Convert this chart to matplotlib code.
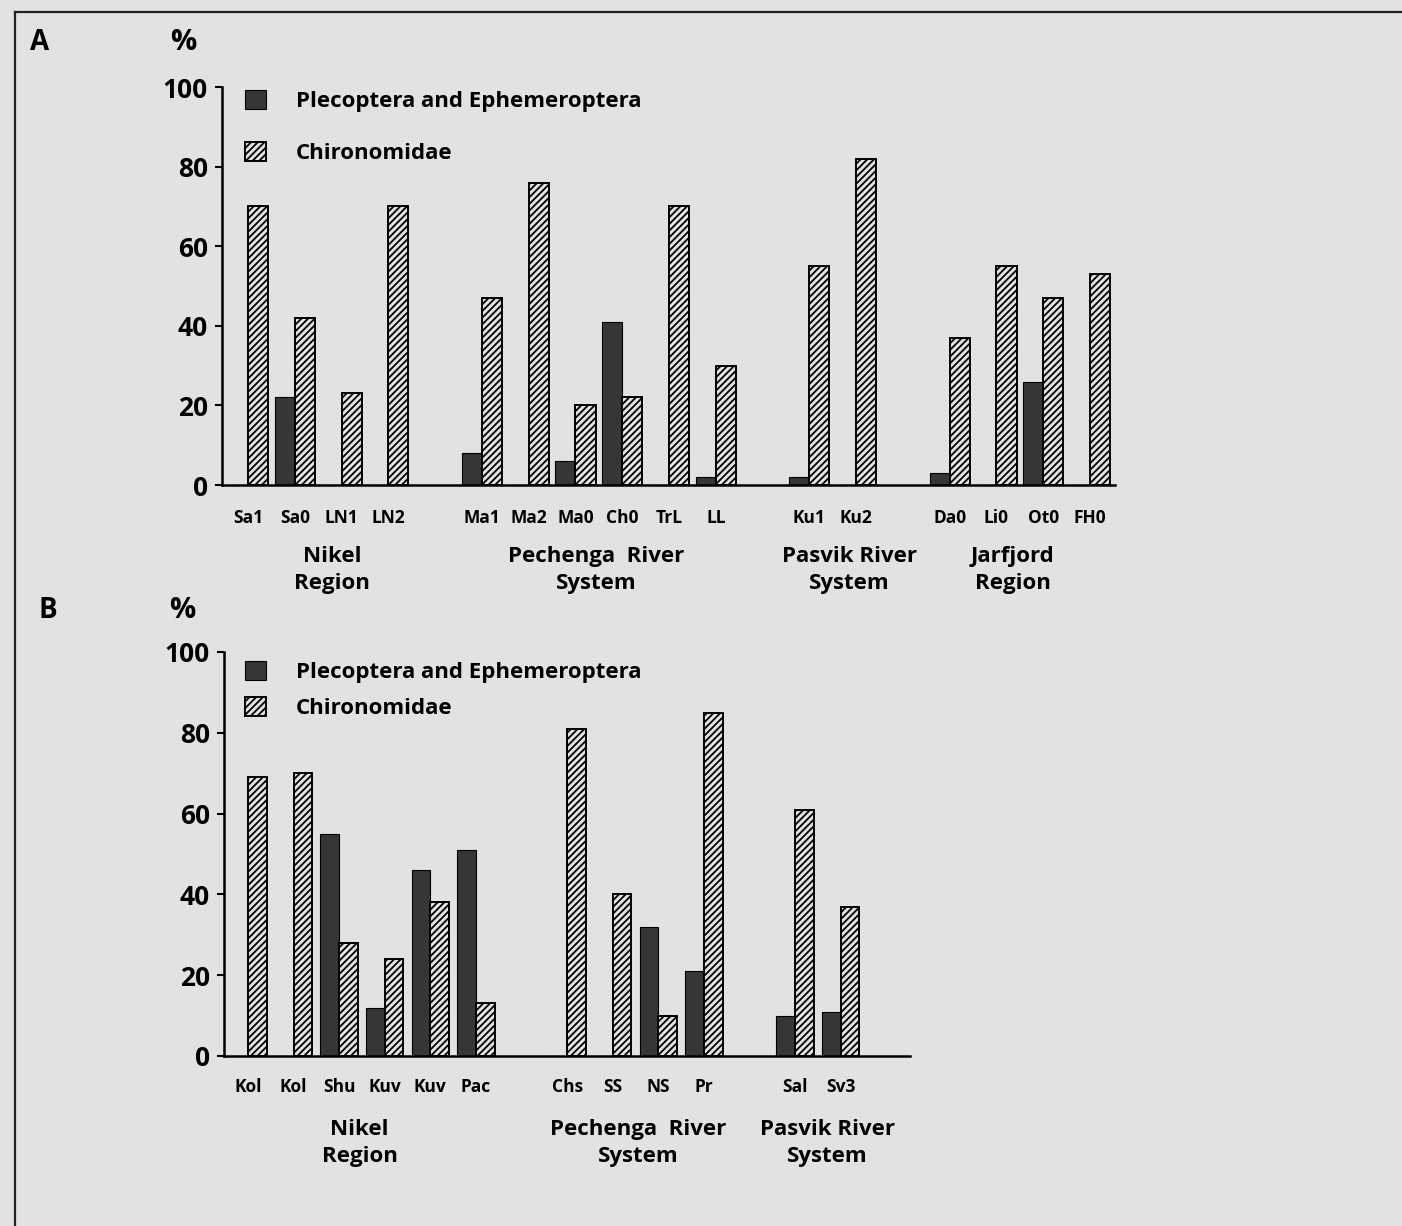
import matplotlib
matplotlib.use('Agg')
import matplotlib.pyplot as plt
from matplotlib.lines import Line2D

plt.rcParams['font.family'] = ['Open Sans', 'DejaVu Sans']
plt.rcParams['font.weight'] = 'bold'
plt.rcParams['hatch.linewidth'] = 1.3
plt.rcParams['hatch.color'] = 'black'

BG = '#e2e2e0'
DARK = '#363636'

# panel A: sites and percentages
sites_a = ['Sa1', 'Sa0', 'LN1', 'LN2', 'Ma1', 'Ma2', 'Ma0', 'Ch0', 'TrL', 'LL',
           'Ku1', 'Ku2', 'Da0', 'Li0', 'Ot0', 'FH0']
slots_a = [0, 1, 2, 3, 5, 6, 7, 8, 9, 10, 12, 13, 15, 16, 17, 18]
pleco_a = [0, 22, 0, 0, 8, 0, 6, 41, 0, 2, 2, 0, 3, 0, 26, 0]
chiro_a = [70, 42, 23, 70, 47, 76, 20, 22, 70, 30, 55, 82, 37, 55, 47, 53]
regions_a = ['Nikel\nRegion', 'Pechenga  River\nSystem', 'Pasvik River\nSystem', 'Jarfjord\nRegion']
region_x_a = [1.8, 7.45, 12.85, 16.35]

# panel B
sites_b = ['Kol', 'Kol', 'Shu', 'Kuv', 'Kuv', 'Pac', 'Chs', 'SS', 'NS', 'Pr', 'Sal', 'Sv3']
slots_b = [0, 1, 2, 3, 4, 5, 7, 8, 9, 10, 12, 13]
pleco_b = [0, 0, 55, 12, 46, 51, 0, 0, 32, 21, 10, 11]
chiro_b = [69, 70, 28, 24, 38, 13, 81, 40, 10, 85, 61, 37]
regions_b = ['Nikel\nRegion', 'Pechenga  River\nSystem', 'Pasvik River\nSystem']
region_x_b = [2.45, 8.55, 12.7]

W, H = 1402, 1226
fig = plt.figure(figsize=(W / 100, H / 100), dpi=100, facecolor=BG)


def px_axes(x0, x1, y_top, y_bot):
    return fig.add_axes([x0 / W, 1 - y_bot / H, (x1 - x0) / W, (y_bot - y_top) / H])


def panel(ax, slots, pleco, chiro, sites, regions, region_x, xlim, bw,
          site_off, reg_off, legend_top, legend_gap):
    ax.set_facecolor('none')
    b1 = ax.bar(slots, pleco, width=-bw, align='edge', color=DARK,
                edgecolor='black', linewidth=0.8, label='Plecoptera and Ephemeroptera')
    b2 = ax.bar(slots, chiro, width=bw, align='edge', color=BG, edgecolor='black',
                linewidth=1.4, hatch='/////', label='Chironomidae')
    ax.set_xlim(*xlim)
    ax.set_ylim(0, 100)
    ax.set_yticks([0, 20, 40, 60, 80, 100])
    for s in ['top', 'right']:
        ax.spines[s].set_visible(False)
    ax.spines['left'].set_linewidth(1.8)
    ax.spines['bottom'].set_linewidth(1.8)
    ax.tick_params(axis='y', direction='out', length=5, width=1.5, pad=5,
                   labelsize=19)
    ax.set_xticks([])
    for x, s in zip(slots, sites):
        ax.annotate(s, xy=(x, 0), xycoords=('data', 'axes fraction'),
                    xytext=(0, -site_off), textcoords='offset pixels',
                    ha='center', va='center', fontsize=12.5)
    for x, r in zip(region_x, regions):
        ax.annotate(r, xy=(x, 0), xycoords=('data', 'axes fraction'),
                    xytext=(0, -reg_off), textcoords='offset pixels',
                    ha='center', va='center', fontsize=16, linespacing=1.4)
    ax.legend(handles=[b1, b2], loc='upper left',
              bbox_to_anchor=(245 / W, 1 - legend_top / H),
              bbox_transform=fig.transFigure, frameon=False, fontsize=16,
              handlelength=0.95, handleheight=0.95, handletextpad=1.35,
              labelspacing=legend_gap, borderpad=0, borderaxespad=0)


ax_a = px_axes(222, 1115, 87, 485)
panel(ax_a, slots_a, pleco_a, chiro_a, sites_a, regions_a, region_x_a,
      (-0.556, 18.534), 0.43, 33, 85, 90, 1.32)

ax_b = px_axes(224, 910, 652, 1056)
panel(ax_b, slots_b, pleco_b, chiro_b, sites_b, regions_b, region_x_b,
      (-0.526, 14.52), 0.41, 31, 87, 661, 0.62)

# panel letters and unit marks
fig.text(40 / W, 1 - 43 / H, 'A', fontsize=20, ha='center', va='center')
fig.text(48 / W, 1 - 610 / H, 'B', fontsize=20, ha='center', va='center')
fig.text(183 / W, 1 - 43 / H, '%', fontsize=21, ha='center', va='center')
fig.text(182 / W, 1 - 610 / H, '%', fontsize=21, ha='center', va='center')

# page frame on top and left
fig.add_artist(Line2D([15 / W, 1], [1 - 12 / H, 1 - 12 / H], color='#222222', lw=1.6))
fig.add_artist(Line2D([15 / W, 15 / W], [0, 1 - 12 / H], color='#222222', lw=1.6))

fig.savefig('out.png', dpi=100, facecolor=BG)
